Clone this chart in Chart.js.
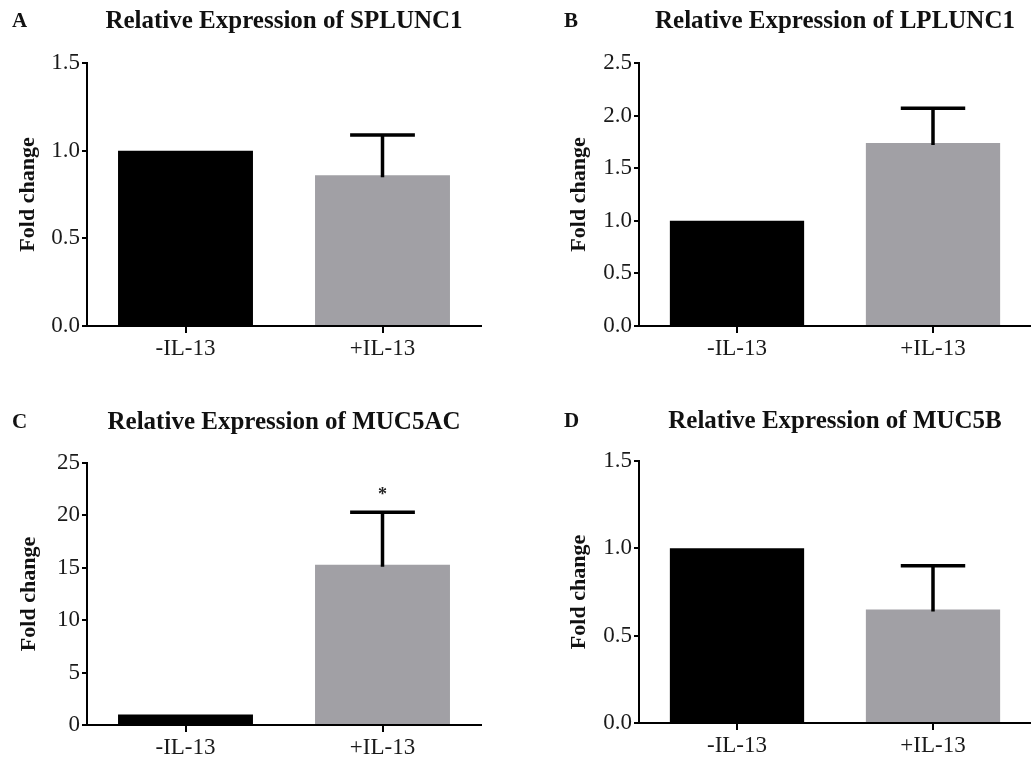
<!DOCTYPE html>
<html>
<head>
<meta charset="utf-8">
<script src="https://cdn.jsdelivr.net/npm/chart.js@4.4.1/dist/chart.umd.min.js"></script>
<style>
  html, body { margin: 0; padding: 0; background: #ffffff; }
  body { width: 1031px; height: 761px; position: relative; overflow: hidden; }
  canvas { position: absolute; }
</style>
</head>
<body>
<canvas id="pA" width="515" height="380" style="left:0px;top:0px"></canvas>
<canvas id="pB" width="516" height="380" style="left:515px;top:0px"></canvas>
<canvas id="pC" width="515" height="381" style="left:0px;top:380px"></canvas>
<canvas id="pD" width="516" height="381" style="left:515px;top:380px"></canvas>
<script>
// Treatment groups and bar fills
const groups = ['-IL-13', '+IL-13'];
const barColors = ['#000000', '#a1a0a5'];

// SPLUNC1
const splunc1Mean = [1.0, 0.86];
const splunc1Err = [0, 0.23];
const splunc1Ticks = [0, 0.5, 1.0, 1.5];

// LPLUNC1
const lplunc1Mean = [1.0, 1.74];
const lplunc1Err = [0, 0.33];
const lplunc1Ticks = [0, 0.5, 1.0, 1.5, 2.0, 2.5];

// MUC5AC
const muc5acMean = [1.0, 15.3];
const muc5acErr = [0, 5.0];
const muc5acTicks = [0, 5, 10, 15, 20, 25];
const muc5acMarks = ['', '*'];

// MUC5B
const muc5bMean = [1.0, 0.65];
const muc5bErr = [0, 0.25];
const muc5bTicks = [0, 0.5, 1.0, 1.5];

const SERIF = '"Liberation Serif", "Times New Roman", serif';

// One-sided (upper) SEM bars plus significance marks
const errorBarPlugin = {
  id: 'errorBars',
  afterDatasetsDraw(chart) {
    const cfg = chart.options.plugins.errorBars;
    const meta = chart.getDatasetMeta(0);
    const y = chart.scales.y;
    const ctx = chart.ctx;
    ctx.save();
    meta.data.forEach((bar, i) => {
      const err = cfg.err[i];
      const mean = chart.data.datasets[0].data[i];
      const yTop = y.getPixelForValue(mean + err);
      if (err > 0) {
        const half = bar.width * 0.24;
        ctx.strokeStyle = '#000';
        ctx.lineWidth = 3.5;
        ctx.lineCap = 'butt';
        ctx.beginPath();
        ctx.moveTo(bar.x, bar.y + 2);
        ctx.lineTo(bar.x, yTop);
        ctx.moveTo(bar.x - half, yTop);
        ctx.lineTo(bar.x + half, yTop);
        ctx.stroke();
      }
      const mark = cfg.marks ? cfg.marks[i] : '';
      if (mark) {
        ctx.fillStyle = '#222';
        ctx.font = 'bold 18px ' + SERIF;
        ctx.textAlign = 'center';
        ctx.textBaseline = 'middle';
        ctx.fillText(mark, bar.x, yTop - 17);
      }
    });
    ctx.restore();
  }
};

// Panel letter and heading above each plot
const headingPlugin = {
  id: 'heading',
  afterDraw(chart) {
    const cfg = chart.options.plugins.heading;
    const a = chart.chartArea;
    const ctx = chart.ctx;
    ctx.save();
    ctx.fillStyle = '#111';
    ctx.textBaseline = 'middle';
    ctx.font = 'bold 25px ' + SERIF;
    ctx.textAlign = 'center';
    ctx.fillText(cfg.title, (a.left + a.right) / 2, cfg.y);
    ctx.font = 'bold 21px ' + SERIF;
    ctx.textAlign = 'left';
    ctx.fillText(cfg.letter, a.left - 75, cfg.y);
    ctx.restore();
  }
};

function makePanel(p) {
  return new Chart(document.getElementById(p.id), {
    type: 'bar',
    data: {
      labels: groups,
      datasets: [{
        data: p.mean,
        backgroundColor: barColors,
        borderWidth: 0,
        barPercentage: 0.685,
        categoryPercentage: 1.0
      }]
    },
    options: {
      responsive: false,
      animation: false,
      devicePixelRatio: 1,
      layout: { padding: { left: 0, right: p.padRight, top: p.padTop, bottom: p.padBottom } },
      plugins: {
        legend: { display: false },
        tooltip: { enabled: false },
        errorBars: { err: p.err, marks: p.marks },
        heading: { title: p.title, letter: p.letter, y: p.titleY }
      },
      scales: {
        x: {
          offset: true,
          afterFit(s) { s.height = 36; },
          grid: { offset: false, drawOnChartArea: false, tickLength: 7, color: '#000', lineWidth: 2 },
          border: { display: true, color: '#000', width: 2 },
          ticks: { color: '#1a1a1a', padding: 2, font: { family: SERIF, size: 23 } }
        },
        y: {
          min: p.ticks[0],
          max: p.ticks[p.ticks.length - 1],
          afterFit(s) { s.width = p.yWidth; },
          afterBuildTicks(s) { s.ticks = p.ticks.map(v => ({ value: v })); },
          grid: { drawOnChartArea: false, tickLength: 5, color: '#000', lineWidth: 2 },
          border: { display: true, color: '#000', width: 2 },
          ticks: {
            color: '#1a1a1a',
            padding: 2,
            font: { family: SERIF, size: 23 },
            callback: v => v.toFixed(p.decimals)
          },
          title: {
            display: true,
            text: 'Fold change',
            color: '#111',
            font: { family: SERIF, size: 22, weight: 'bold' },
            padding: { top: p.yTitlePad, bottom: 0 }
          }
        }
      }
    },
    plugins: [errorBarPlugin, headingPlugin]
  });
}

makePanel({ id: 'pA', letter: 'A', title: 'Relative Expression of SPLUNC1',
  mean: splunc1Mean, err: splunc1Err, ticks: splunc1Ticks, decimals: 1,
  yWidth: 87, yTitlePad: 15, padRight: 34, padTop: 63, padBottom: 18, titleY: 22 });

makePanel({ id: 'pB', letter: 'B', title: 'Relative Expression of LPLUNC1',
  mean: lplunc1Mean, err: lplunc1Err, ticks: lplunc1Ticks, decimals: 1,
  yWidth: 124, yTitlePad: 51, padRight: 0, padTop: 63, padBottom: 18, titleY: 22 });

makePanel({ id: 'pC', letter: 'C', title: 'Relative Expression of MUC5AC',
  mean: muc5acMean, err: muc5acErr, ticks: muc5acTicks, decimals: 0, marks: muc5acMarks,
  yWidth: 87, yTitlePad: 16, padRight: 34, padTop: 83, padBottom: 0, titleY: 43 });

makePanel({ id: 'pD', letter: 'D', title: 'Relative Expression of MUC5B',
  mean: muc5bMean, err: muc5bErr, ticks: muc5bTicks, decimals: 1,
  yWidth: 124, yTitlePad: 51, padRight: 0, padTop: 81, padBottom: 2, titleY: 42 });
</script>
</body>
</html>
